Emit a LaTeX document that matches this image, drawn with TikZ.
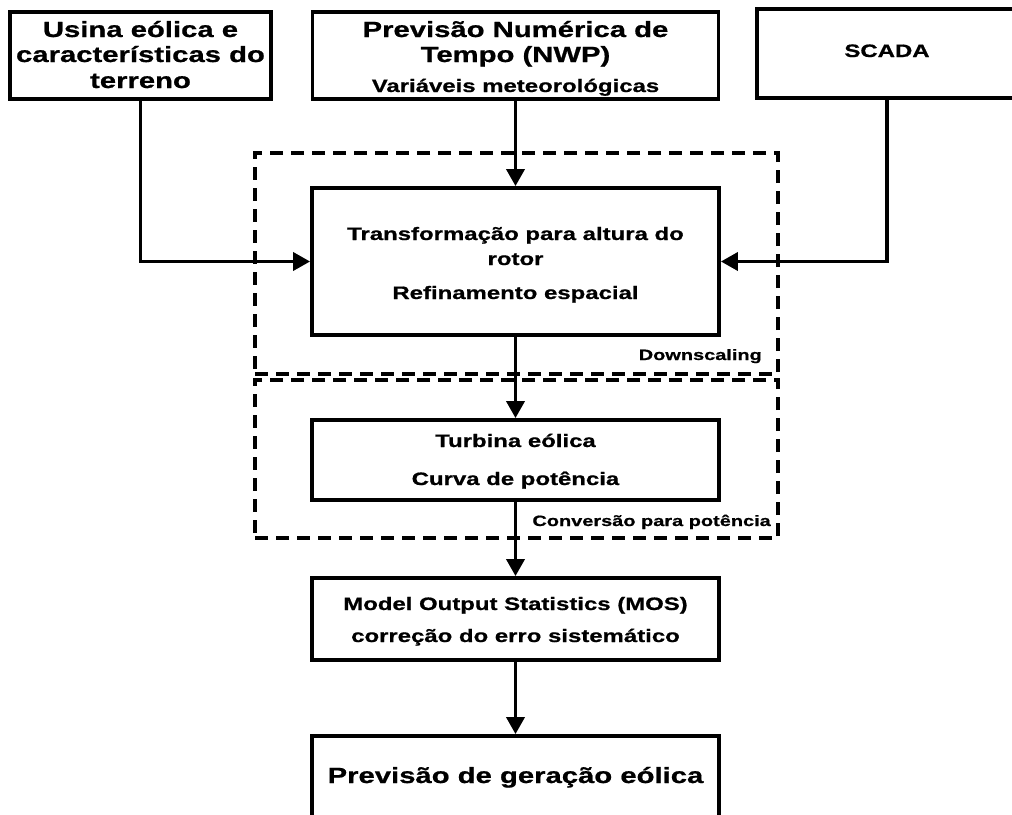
\documentclass[tikz,border=0pt]{standalone}
\usepackage{fontspec}
\setmainfont{Liberation Sans}[FakeStretch=1.33, BoldFeatures={FakeBold=0.8}]
\usetikzlibrary{arrows.meta}
\tikzset{
  box/.style={draw, line width=3.8pt, rectangle, inner sep=0pt, fill=white},
  grp/.style={draw, line width=3.6pt, dash pattern=on 13pt off 8pt, rectangle, inner sep=0pt},
  arr/.style={line width=3.6pt, -{Triangle[length=17pt,width=18pt]}},
  big/.style={font=\bfseries\fontsize{22}{25}\selectfont, anchor=base, inner sep=0pt},
  mid/.style={font=\bfseries\fontsize{18}{22}\selectfont, anchor=base, inner sep=0pt},
  lbl/.style={font=\bfseries\fontsize{15}{18}\selectfont, anchor=base east, inner sep=0pt},
}
\begin{document}
\begin{tikzpicture}[x=1pt,y=-1pt]
\useasboundingbox (0,0) rectangle (1012,814);
% dashed groups
\node[grp, minimum width=523, minimum height=221] (down) at (516.5,263.5) {};
\node[grp, minimum width=523, minimum height=158] (conv) at (516.5,459) {};
% boxes
\node[box, minimum width=261, minimum height=87] (usina) at (140.5,55.5) {};
\node[box, minimum width=406, minimum height=87] (nwp) at (515.5,55.5) {};
\node[box, minimum width=273, minimum height=89] (scada) at (893.5,53.5) {};
\node[box, minimum width=407, minimum height=147] (trans) at (515.5,261.5) {};
\node[box, minimum width=407, minimum height=80] (turb) at (515.5,460) {};
\node[box, minimum width=407, minimum height=82] (mos) at (515.5,619) {};
\node[box, minimum width=407, minimum height=94] (final) at (515.5,783) {};
% texts
\node[big] (u1) at (140.5,37) {Usina eólica e};
\node[big] (u2) at (140.5,62) {características do};
\node[big] (u3) at (140.5,88) {terreno};
\node[big] (n1) at (515.5,37) {Previsão Numérica de};
\node[big] (n2) at (515.5,62) {Tempo (NWP)};
\node[mid] (n3) at (515.5,92) {Variáveis meteorológicas};
\node[mid] (s1) at (887,57) {SCADA};
\node[mid] (t1) at (515.5,240) {Transformação para altura do};
\node[mid] (t2) at (515.5,265) {rotor};
\node[mid] (t3) at (515.5,299) {Refinamento espacial};
\node[lbl] (dl) at (762,360) {Downscaling};
\node[mid] (w1) at (515.5,447) {Turbina eólica};
\node[mid] (w2) at (515.5,485) {Curva de potência};
\node[lbl] (cl) at (771,526) {Conversão para potência};
\node[mid] (m1) at (515.5,610) {Model Output Statistics (MOS)};
\node[mid] (m2) at (515.5,642) {correção do erro sistemático};
\node[big] (f1) at (515.5,783) {Previsão de geração eólica};
% connectors
\draw[arr] (nwp.south) -- (trans.north);
\draw[arr] (usina.south) |- (trans.west);
\draw[arr] (scada.south -| s1) |- (trans.east);
\draw[arr] (trans.south) -- (turb.north);
\draw[arr] (turb.south) -- (mos.north);
\draw[arr] (mos.south) -- (final.north);
\end{tikzpicture}
\end{document}
